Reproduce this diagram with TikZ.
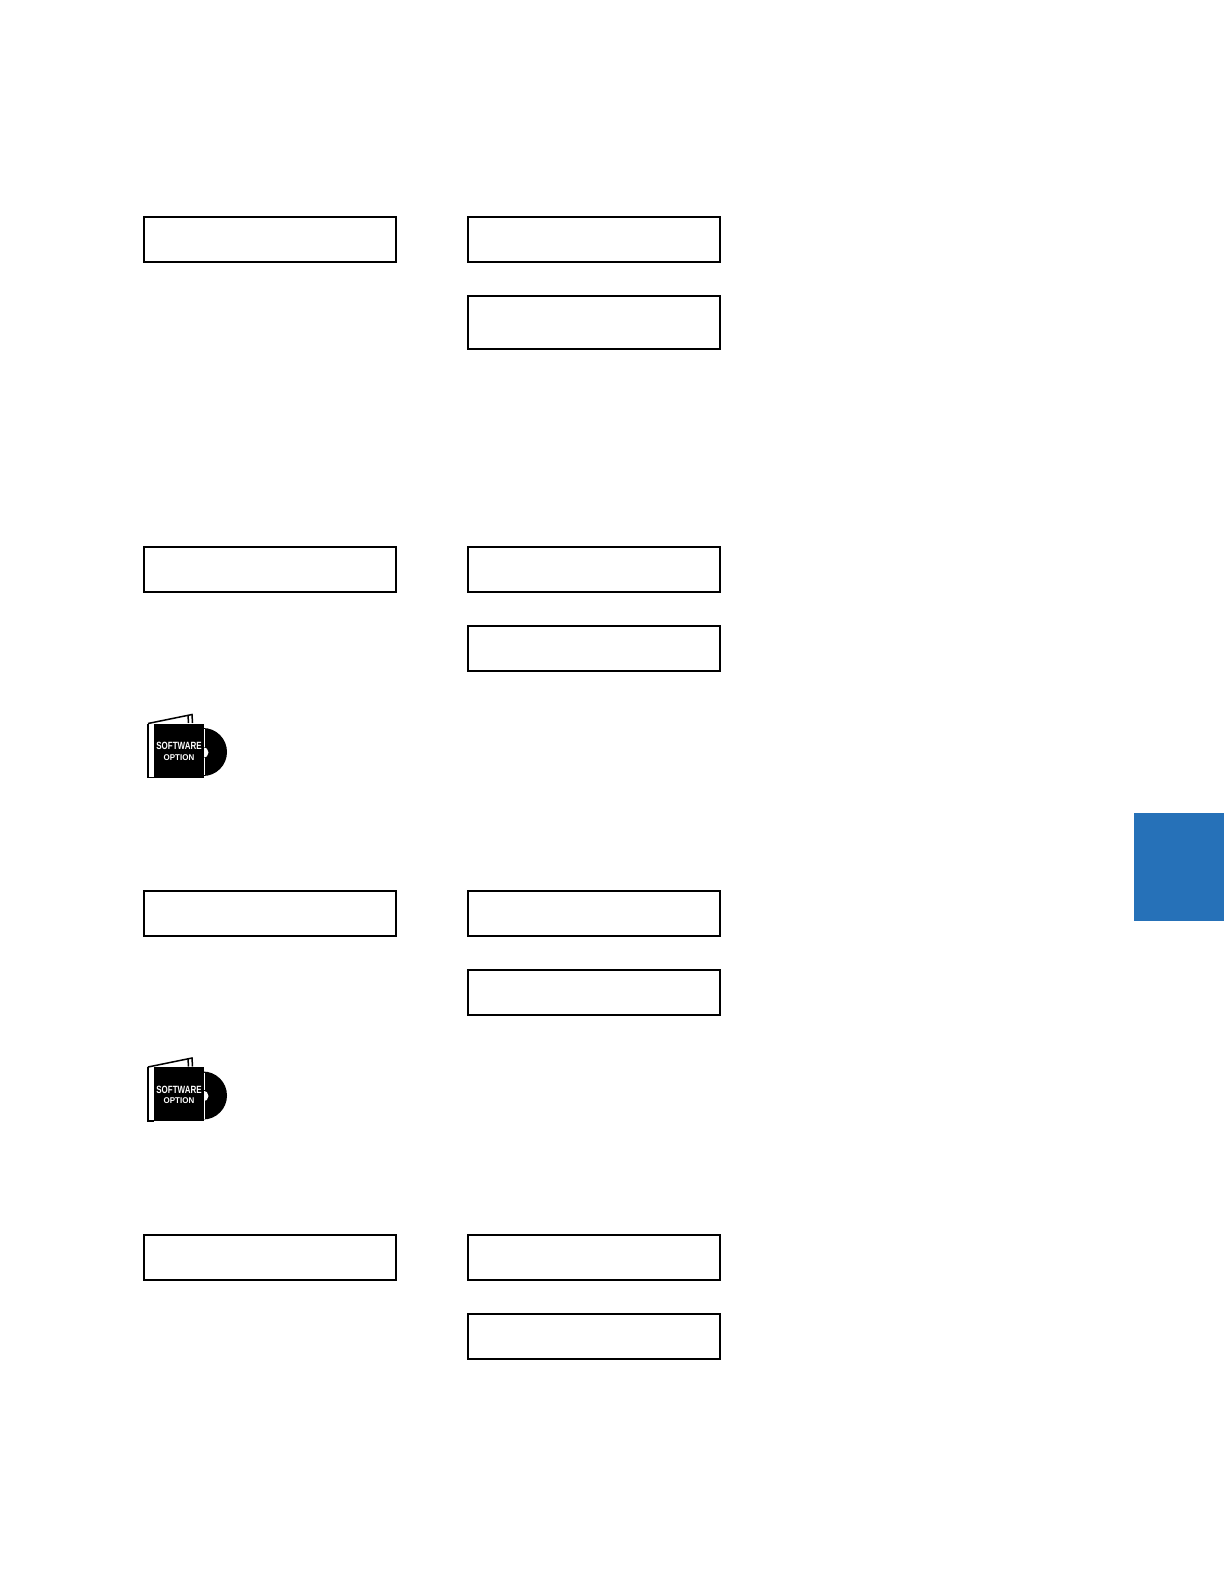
\documentclass[tikz,border=0pt]{standalone}
\usepackage{fontspec}
\setmainfont{Liberation Sans}
\definecolor{tabblue}{RGB}{38,113,184}
\tikzset{
  panel/.style={draw=black,line width=2.2pt,fill=white,inner sep=0pt,anchor=north west,minimum width=252pt,minimum height=45pt},
  panelsw/.style={panel,minimum height=53pt},
  softline/.style={text=white,inner sep=0pt},
  softwareicon/.pic={
    \fill[black] (203,728) arc[start angle=-90,end angle=90,radius=24] -- cycle;
    \fill[white] (203,747) arc[start angle=-90,end angle=90,radius=5.5] -- cycle;
    \draw[black,line width=1.3pt,fill=white] (148,723.5) -- (148,777.5) -- (154,777.5);
    \draw[black,line width=1.5pt] (148,723.5) -- (192,714.5) -- (192.5,723);
    \draw[black,line width=1.5pt] (188,715.5) -- (188.5,723);
    \fill[black] (154,723.5) rectangle (203.5,777.5);
    \draw[white,line width=.5pt] (203.8,729) -- (203.8,746.5) (203.8,757.5) -- (203.8,775);
    \node[softline,font=\bfseries\fontsize{10.5}{10.5}\selectfont,xscale=.76] (-a) at (179,746) {SOFTWARE};
    \node[softline,font=\bfseries\fontsize{8.4}{8.4}\selectfont,xscale=.95] (-b) at (179,757.5) {OPTION};
  }
}
\begin{document}
\begin{tikzpicture}[x=1pt,y=-1pt]
\useasboundingbox (0,0) rectangle (1224,1584);
\fill[white] (0,0) rectangle (1224,1584);
\node[panel]   (a1) at (142.5,215.5) {};
\node[panel]   (b1) at (466.5,215.5) {};
\node[panelsw] (c1) at (466.5,295) {};
\node[panel]   (a2) at (142.5,545.5) {};
\node[panel]   (b2) at (466.5,545.5) {};
\node[panel]   (c2) at (466.5,624.5) {};
\node[panel]   (a3) at (142.5,889.5) {};
\node[panel]   (b3) at (466.5,889.5) {};
\node[panel]   (c3) at (466.5,968.5) {};
\node[panel]   (a4) at (142.5,1233.5) {};
\node[panel]   (b4) at (466.5,1233.5) {};
\node[panel]   (c4) at (466.5,1312.5) {};
\pic (iconone) at (0,0) {softwareicon};
\pic (icontwo) at (0,343.5) {softwareicon};
\fill[tabblue] (1134,813) rectangle (1224,921);
\end{tikzpicture}
\end{document}
